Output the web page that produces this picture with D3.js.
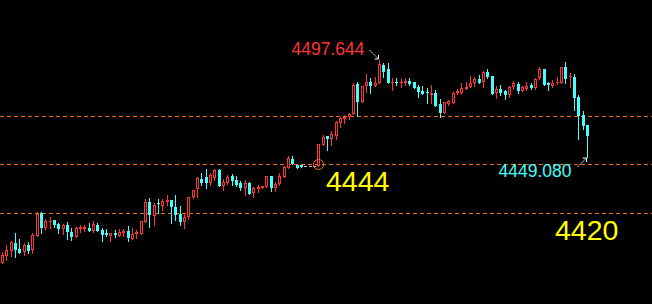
<!DOCTYPE html>
<html>
<head>
<meta charset="utf-8">
<script src="https://cdn.jsdelivr.net/npm/d3@7"></script>
<style>
  body { margin: 0; background: #000; }
  svg { display: block; }
</style>
</head>
<body>
<div id="chart-area"></div>
<script>
// candle data
var opens = [
  4396.3, 4399.8, 4402.3, 4406.3, 4403.1, 4401.5, 4405.1, 4402.6, 4409.8, 4421.0,
  4413.8, 4416.4, 4417.6, 4415.6, 4413.1, 4415.3, 4411.6, 4409.3, 4413.0, 4413.1,
  4413.6, 4412.3, 4415.1, 4412.6, 4411.0, 4409.6, 4411.0, 4409.8, 4411.0, 4412.1,
  4408.3, 4410.5, 4410.8, 4416.6, 4426.8, 4419.6, 4426.1, 4424.8, 4426.8, 4427.6,
  4424.3, 4420.6, 4416.8, 4419.3, 4429.0, 4433.1, 4438.0, 4439.0, 4436.3, 4438.5,
  4442.6, 4434.8, 4436.0, 4439.8, 4437.6, 4436.0, 4433.5, 4436.3, 4431.3, 4433.3,
  4433.5, 4434.3, 4439.8, 4433.5, 4435.6, 4439.3, 4443.5, 4448.0, 4445.1, 4445.1,
  4444.5, 4444.5, 4444.5, 4444.5, 4455.1, 4459.6, 4458.1, 4459.8, 4466.3, 4468.1,
  4469.0, 4470.5, 4485.5, 4476.8, 4484.8, 4486.5, 4484.8, 4486.3, 4495.3, 4493.1,
  4486.0, 4486.5, 4486.0, 4486.0, 4487.3, 4486.5, 4484.3, 4482.3, 4481.8, 4480.1,
  4481.0, 4475.6, 4471.0, 4475.6, 4476.0, 4481.0, 4481.0, 4483.1, 4484.0, 4486.3,
  4488.1, 4486.8, 4491.6, 4489.6, 4481.3, 4483.0, 4482.3, 4480.1, 4484.3, 4485.6,
  4482.3, 4483.1, 4485.1, 4483.8, 4488.5, 4493.1, 4486.0, 4484.8, 4486.0, 4486.0,
  4494.3, 4489.0, 4489.3, 4479.3, 4470.1, 4465.1
];
var highs = [
  4401.8, 4405.1, 4407.3, 4411.3, 4408.1, 4406.3, 4406.8, 4411.0, 4421.6, 4421.6,
  4418.1, 4419.3, 4417.6, 4416.3, 4415.5, 4416.5, 4413.5, 4414.3, 4415.1, 4415.3,
  4416.3, 4417.1, 4416.3, 4413.6, 4413.3, 4411.1, 4412.6, 4413.1, 4413.0, 4414.6,
  4413.5, 4412.6, 4417.1, 4428.1, 4428.5, 4426.1, 4428.1, 4428.1, 4430.1, 4427.6,
  4430.1, 4424.8, 4421.0, 4429.0, 4432.6, 4439.1, 4441.0, 4443.0, 4441.0, 4443.0,
  4443.1, 4438.1, 4440.1, 4440.5, 4439.8, 4437.3, 4437.6, 4436.8, 4434.3, 4435.1,
  4434.6, 4439.8, 4439.8, 4436.8, 4441.0, 4444.6, 4449.6, 4449.6, 4445.1, 4445.1,
  4444.5, 4444.5, 4444.5, 4455.5, 4460.1, 4459.6, 4462.1, 4467.1, 4469.3, 4470.1,
  4471.0, 4486.3, 4486.8, 4484.8, 4490.6, 4488.5, 4489.0, 4497.644, 4496.0, 4496.3,
  4488.8, 4488.5, 4488.0, 4488.5, 4488.5, 4486.5, 4485.1, 4484.8, 4483.5, 4485.1,
  4482.6, 4478.0, 4476.8, 4477.6, 4481.8, 4483.0, 4486.0, 4486.8, 4489.6, 4489.3,
  4490.1, 4492.3, 4493.1, 4489.6, 4484.6, 4485.1, 4482.6, 4484.6, 4487.3, 4486.5,
  4484.6, 4486.8, 4486.0, 4488.5, 4494.3, 4493.1, 4486.5, 4487.6, 4489.0, 4494.0,
  4496.8, 4491.3, 4490.6, 4480.1, 4472.1, 4465.1
];
var lows = [
  4396.3, 4397.6, 4399.6, 4399.0, 4401.0, 4400.1, 4401.0, 4401.0, 4409.8, 4411.3,
  4412.6, 4413.5, 4414.0, 4411.0, 4410.8, 4408.1, 4407.5, 4409.0, 4411.8, 4411.9,
  4412.3, 4411.6, 4412.0, 4407.3, 4409.8, 4407.3, 4409.3, 4409.6, 4409.8, 4407.3,
  4408.0, 4408.8, 4410.8, 4416.6, 4414.3, 4415.1, 4421.0, 4422.6, 4425.1, 4416.3,
  4417.6, 4415.1, 4413.5, 4418.0, 4428.5, 4429.1, 4435.1, 4433.5, 4435.0, 4437.6,
  4434.8, 4432.6, 4435.6, 4435.1, 4434.6, 4432.6, 4430.1, 4430.5, 4429.3, 4431.8,
  4433.5, 4434.3, 4432.3, 4432.3, 4435.1, 4439.3, 4443.5, 4445.6, 4443.8, 4444.1,
  4444.5, 4444.5, 4444.5, 4444.5, 4455.1, 4452.6, 4455.1, 4458.1, 4464.0, 4466.3,
  4468.0, 4470.5, 4469.6, 4476.8, 4481.8, 4481.0, 4484.8, 4486.3, 4489.0, 4486.0,
  4482.6, 4485.1, 4484.3, 4485.1, 4485.1, 4483.8, 4479.0, 4480.5, 4476.3, 4476.0,
  4474.8, 4469.3, 4471.0, 4475.1, 4476.0, 4480.6, 4480.6, 4483.1, 4484.0, 4484.6,
  4486.0, 4484.3, 4488.8, 4480.6, 4478.8, 4480.1, 4478.1, 4479.3, 4483.1, 4481.0,
  4482.0, 4482.6, 4483.0, 4483.0, 4488.0, 4485.3, 4482.6, 4484.3, 4485.8, 4486.0,
  4486.0, 4484.3, 4472.6, 4458.1, 4463.1, 4449.08
];
var closes = [
  4400.1, 4402.6, 4406.6, 4402.6, 4401.3, 4405.1, 4402.1, 4410.3, 4420.8, 4413.5,
  4417.1, 4416.9, 4415.1, 4413.1, 4415.0, 4411.5, 4409.3, 4413.6, 4414.3, 4414.2,
  4412.3, 4415.8, 4412.3, 4410.1, 4410.0, 4411.1, 4410.3, 4411.8, 4412.3, 4408.5,
  4410.6, 4411.5, 4417.1, 4426.8, 4420.1, 4425.1, 4425.8, 4427.3, 4427.6, 4424.0,
  4420.1, 4416.8, 4419.3, 4429.0, 4432.6, 4438.6, 4436.3, 4436.0, 4440.1, 4442.6,
  4434.8, 4436.5, 4439.3, 4437.3, 4435.1, 4433.5, 4436.0, 4430.5, 4433.5, 4434.0,
  4434.6, 4439.8, 4433.5, 4435.6, 4439.8, 4444.0, 4448.8, 4445.6, 4443.8, 4444.1,
  4444.5, 4444.5, 4444.5, 4455.5, 4459.0, 4458.1, 4460.6, 4466.5, 4468.5, 4469.0,
  4470.5, 4485.1, 4476.8, 4484.8, 4486.5, 4484.8, 4486.3, 4495.6, 4491.8, 4486.0,
  4486.8, 4486.0, 4486.8, 4487.3, 4485.6, 4483.8, 4481.8, 4480.5, 4481.3, 4481.3,
  4474.8, 4471.3, 4476.5, 4477.1, 4481.3, 4482.3, 4483.8, 4484.3, 4486.3, 4488.1,
  4486.3, 4491.6, 4489.3, 4480.6, 4483.1, 4481.3, 4480.1, 4484.3, 4486.0, 4482.1,
  4484.0, 4484.8, 4483.5, 4488.0, 4493.0, 4485.3, 4485.0, 4486.0, 4486.5, 4494.0,
  4488.1, 4489.8, 4478.8, 4469.8, 4464.6, 4459.6
];

// horizontal levels (dashed)
var levels = [4469.6, 4445.6, 4421.1];
// big yellow level labels
var levelLabels = [
  { text: "4444", price: 4445.6 },
  { text: "4420", price: 4421.1 }
];
var maxIndex = 87, maxText = "4497.644";
var minIndex = 135, minText = "4449.080";

var width = 652;
var height = 304;

var red = "#ff3535";
var cyan = "#45ffff";
var orange = "#f07018";

var svg = d3.select("#chart-area").append("svg")
    .attr("width", width)
    .attr("height", height)
    .style("background", "#000");

var candles = opens.map((o, i) => ({
    i: i, o: o, h: highs[i], l: lows[i], c: closes[i]
}));

var x = d3.scaleBand()
    .domain(d3.range(candles.length))
    .range([0.5, 0.5 + candles.length * 4.333]);

var y = d3.scaleLinear()
    .domain([4375.644, 4527.644])
    .range([height, 0]);

var cx = (i) => Math.floor(x(i) + x.bandwidth() / 2);

// level lines
svg.selectAll(".level")
    .data(levels)
    .enter().append("line")
        .attr("class", "level")
        .attr("x1", 0)
        .attr("x2", width)
        .attr("y1", (d) => Math.round(y(d)) + 0.5)
        .attr("y2", (d) => Math.round(y(d)) + 0.5)
        .attr("stroke", orange)
        .attr("stroke-width", 1)
        .attr("stroke-dasharray", "4,3");

var g = svg.append("g");

candles.forEach((d) => {
    var xc = cx(d.i);
    var col = d.c > d.o ? red : (d.c < d.o ? cyan : "#b8b8b8");
    var top = Math.round(y(Math.max(d.o, d.c)));
    var bot = Math.round(y(Math.min(d.o, d.c)));
    var h = Math.max(1, bot - top);

    if (d.h === d.l) {
        g.append("rect")
            .attr("x", xc - 1).attr("y", top).attr("width", 3).attr("height", 1)
            .attr("fill", col);
        return;
    }

    // wick
    g.append("line")
        .attr("x1", xc + 0.5).attr("x2", xc + 0.5)
        .attr("y1", Math.round(y(d.h)))
        .attr("y2", Math.round(y(d.l)) + 1)
        .attr("stroke", col)
        .attr("stroke-width", 1);

    if (d.c > d.o && h > 2) {
        // hollow up candle
        g.append("rect")
            .attr("x", xc - 0.5).attr("y", top + 0.5)
            .attr("width", 2).attr("height", h - 1)
            .attr("fill", "#000")
            .attr("stroke", col)
            .attr("stroke-width", 1);
    } else {
        g.append("rect")
            .attr("x", xc - 1).attr("y", top)
            .attr("width", 3).attr("height", h)
            .attr("fill", col);
    }
});

// marker circle where the breakout started
svg.append("circle")
    .attr("cx", cx(73) + 0.5)
    .attr("cy", Math.round(y(levels[1])) + 0.5)
    .attr("r", 5)
    .attr("fill", "none")
    .attr("stroke", orange)
    .attr("stroke-width", 1);

// high label + arrow
var hx = cx(maxIndex) + 0.5, hy = Math.round(y(highs[maxIndex]));
svg.append("text")
    .attr("x", hx - 15)
    .attr("y", hy - 5)
    .attr("text-anchor", "end")
    .style("font-family", "'Liberation Sans', Arial, sans-serif")
    .style("font-size", "17.5px")
    .style("fill", red)
    .text(maxText);

svg.append("line")
    .attr("x1", hx - 10).attr("y1", hy - 10)
    .attr("x2", hx - 1).attr("y2", hy - 1)
    .attr("stroke", "#fff")
    .attr("stroke-width", 1)
    .attr("stroke-dasharray", "2,1");
svg.append("path")
    .attr("d", "M" + (hx - 1) + "," + (hy - 5) + "V" + (hy - 1) + "H" + (hx - 5))
    .attr("fill", "none")
    .attr("stroke", "#fff")
    .attr("stroke-width", 1);

// low label + arrow
var lx = cx(minIndex) + 0.5, ly = Math.round(y(lows[minIndex]));
svg.append("text")
    .attr("x", lx - 16)
    .attr("y", ly + 20)
    .attr("text-anchor", "end")
    .style("font-family", "'Liberation Sans', Arial, sans-serif")
    .style("font-size", "17.5px")
    .style("fill", cyan)
    .text(minText);

svg.append("line")
    .attr("x1", lx - 10).attr("y1", ly + 10)
    .attr("x2", lx - 1).attr("y2", ly + 1)
    .attr("stroke", "#fff")
    .attr("stroke-width", 1)
    .attr("stroke-dasharray", "2,1");
svg.append("path")
    .attr("d", "M" + (lx - 5) + "," + (ly + 1) + "H" + (lx - 1) + "V" + (ly + 5))
    .attr("fill", "none")
    .attr("stroke", "#fff")
    .attr("stroke-width", 1);

// yellow level labels
var labelX = [326, 555];
svg.selectAll(".lvl-label")
    .data(levelLabels)
    .enter().append("text")
        .attr("class", "lvl-label")
        .attr("x", (d, i) => labelX[i])
        .attr("y", (d) => Math.round(y(d.price)) + 27)
        .style("font-family", "'Liberation Sans', Arial, sans-serif")
        .style("font-size", "28.5px")
        .style("fill", "#ffff00")
        .text((d) => d.text);
</script>
</body>
</html>
